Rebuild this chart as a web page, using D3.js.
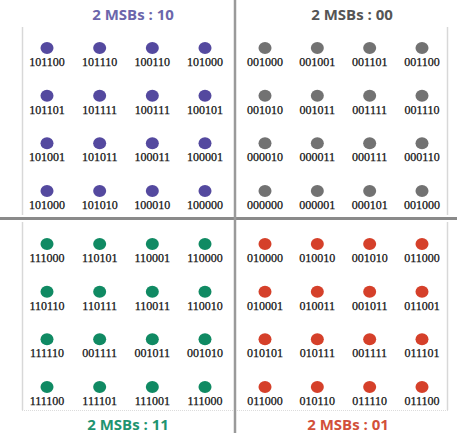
<!DOCTYPE html>
<html><head><meta charset="utf-8">
<script src="https://cdn.jsdelivr.net/npm/d3@7"></script>
<style>body{margin:0;background:#fff}svg{display:block}</style>
</head><body>
<svg id="c" width="457" height="433"></svg>
<script>
const titles = ["2 MSBs : 10", "2 MSBs : 00", "2 MSBs : 11", "2 MSBs : 01"];
const labels10 = [
  ["101100","101110","100110","101000"],
  ["101101","101111","100111","100101"],
  ["101001","101011","100011","100001"],
  ["101000","101010","100010","100000"]];
const labels00 = [
  ["001000","001001","001101","001100"],
  ["001010","001011","001111","001110"],
  ["000010","000011","000111","000110"],
  ["000000","000001","000101","001000"]];
const labels11 = [
  ["111000","110101","110001","110000"],
  ["110110","110111","110011","110010"],
  ["111110","001111","001011","001010"],
  ["111100","111101","111001","111000"]];
const labels01 = [
  ["010000","010010","001010","011000"],
  ["010001","010011","001011","011001"],
  ["010101","010111","001111","011101"],
  ["011000","010110","011110","011100"]];
const cols = [0,1,2,3];
const rows = [0,1,2,3];

const svg = d3.select("#c");
const quads = [
  {labels: labels10, title: titles[0], dot:"#54499f", tc:"#6b66ab", x0:47, x1:205, y0:48, y1:191, tx:133, ty:20, border:"left", top:27, bottom:215},
  {labels: labels00, title: titles[1], dot:"#727272", tc:"#555555", x0:265, x1:422, y0:48, y1:191, tx:352, ty:20, border:"right", top:27, bottom:215},
  {labels: labels11, title: titles[2], dot:"#108a63", tc:"#1e9470", x0:47, x1:205, y0:244, y1:387, tx:128, ty:430, border:"left", top:222, bottom:410},
  {labels: labels01, title: titles[3], dot:"#d5402a", tc:"#d2503a", x0:265, x1:422, y0:244, y1:387, tx:348, ty:430, border:"right", top:222, bottom:410}
];

quads.forEach(q=>{
  const bx = q.border==="left" ? 22.5 : 447.5;
  svg.append("line").attr("x1",bx).attr("x2",bx).attr("y1",q.top).attr("y2",q.bottom)
    .attr("stroke","#d8d8d8").attr("stroke-width",1.5);
});
svg.append("line").attr("x1",22).attr("x2",233).attr("y1",410.5).attr("y2",410.5).attr("stroke","#dcdcdc").attr("stroke-dasharray","1,1");
svg.append("line").attr("x1",237).attr("x2",448).attr("y1",410.5).attr("y2",410.5).attr("stroke","#dcdcdc").attr("stroke-dasharray","1,1");

svg.append("line").attr("x1",0).attr("x2",457).attr("y1",218.5).attr("y2",218.5).attr("stroke","#8a8a8a").attr("stroke-width",3);
svg.append("line").attr("x1",235).attr("x2",235).attr("y1",0).attr("y2",433).attr("stroke","#9a9a9a").attr("stroke-width",2.5);

quads.forEach(q=>{
  const x = d3.scalePoint().domain(cols).range([q.x0,q.x1]);
  const y = d3.scalePoint().domain(rows).range([q.y0,q.y1]);
  const g = svg.append("g");
  const cells = [];
  rows.forEach(r=>cols.forEach(c=>cells.push({r,c,t:q.labels[r][c]})));
  g.selectAll("ellipse").data(cells).join("ellipse")
    .attr("cx",d=>x(d.c)).attr("cy",d=>y(d.r)).attr("rx",6.5).attr("ry",6)
    .attr("fill",q.dot);
  g.selectAll("text").data(cells).join("text")
    .attr("x",d=>x(d.c)).attr("y",d=>y(d.r)+18)
    .attr("text-anchor","middle")
    .attr("font-family","Liberation Serif, serif").attr("font-size",12)
    .attr("fill","#111").attr("stroke","#111").attr("stroke-width",0.25).text(d=>d.t);
  svg.append("text").attr("x",q.tx).attr("y",q.ty).attr("text-anchor","middle")
    .attr("font-family","Open Sans, sans-serif").attr("font-weight","bold").attr("font-size",15)
    .attr("fill",q.tc).text(q.title);
});
</script>
</body></html>
